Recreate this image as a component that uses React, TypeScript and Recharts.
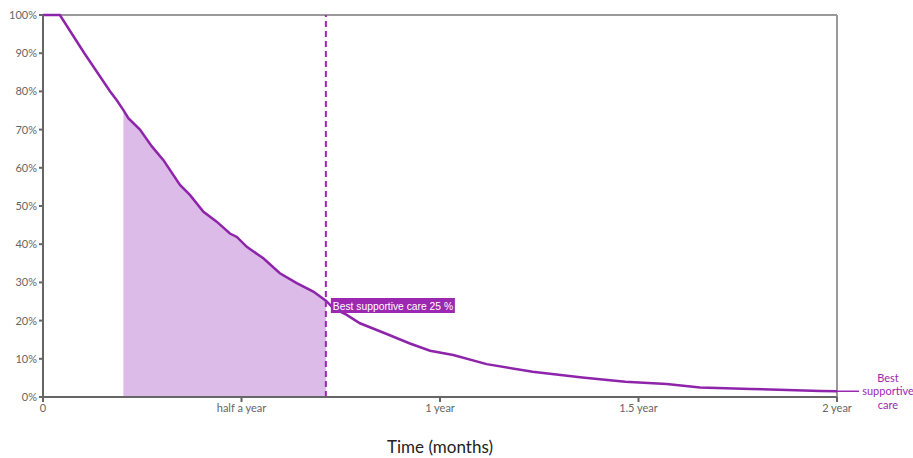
import React from "react";
import {
  ComposedChart,
  Line,
  Area,
  XAxis,
  YAxis,
  ReferenceLine,
  ReferenceDot,
} from "recharts";

const months = [0, 0.51, 1.25, 2.03, 2.23, 2.43, 2.58, 2.93, 3.29, 3.64, 4.14, 4.44, 4.85, 5.25, 5.65, 5.86, 6.16, 6.66, 7.16, 7.67, 8.17, 8.55, 8.77, 9.18, 9.58, 10.39, 11.09, 11.7, 12.4, 13.41, 14.8, 16.3, 17.6, 18.85, 19.86, 21.4, 23.5, 24];
const survival = [100, 100, 90, 80, 77.7, 75.1, 73, 70, 65.6, 62, 55.5, 52.9, 48.5, 45.9, 42.8, 41.9, 39.3, 36.3, 32.4, 29.8, 27.6, 25.2, 23.3, 21.5, 19.3, 16.5, 14.0, 12.1, 11.0, 8.6, 6.6, 5.1, 4.0, 3.4, 2.5, 2.1, 1.6, 1.5];
const shadeStart = 2.43;
const shadeEnd = 8.55;
const xTicks = [0, 6, 12, 18, 24];
const xTickLabels = ["0", "half a year", "1 year", "1.5 year", "2 year"];
const yTicks = [0, 10, 20, 30, 40, 50, 60, 70, 80, 90, 100];
const seriesName = "Best supportive care";
const markerValue = 25;

const data = months.map((m, i) => ({
  month: m,
  survival: survival[i],
  shade: m >= shadeStart && m <= shadeEnd ? survival[i] : null,
}));

const LINE = "#8e24aa";
const ACCENT = "#9c27b0";
const FILL = "#dcbbe8";
const FONT = "Lato, 'Open Sans', sans-serif";

const MarkerLabel = (props: any) => {
  const { cx, cy } = props;
  const w = 124;
  const h = 15;
  return (
    <g>
      <rect x={cx + 5} y={cy - 3.5} width={w} height={h} fill={ACCENT} />
      <text x={cx + 7} y={cy + 8} fill="#fff" fontSize={10.3} fontFamily="Arial, 'Liberation Sans', sans-serif">
        {`${seriesName} ${markerValue} %`}
      </text>
    </g>
  );
};

const EndLabel = (props: any) => {
  const { cx, cy } = props;
  return (
    <g>
      <line x1={cx} y1={cy} x2={cx + 22} y2={cy} stroke={ACCENT} strokeWidth={1.5} />
      <text x={cx + 51} textAnchor="middle" fill={ACCENT} fontSize={11} fontFamily={FONT}>
        <tspan x={cx + 51} y={cy - 9}>Best</tspan>
        <tspan x={cx + 51} y={cy + 4}>supportive</tspan>
        <tspan x={cx + 51} y={cy + 18}>care</tspan>
      </text>
    </g>
  );
};

export default function App() {
  return (
    <div style={{ position: "absolute", left: 0, top: 0 }}>
      <ComposedChart
        width={913}
        height={458}
        data={data}
        margin={{ top: 15, right: 76, bottom: 1, left: 0 }}
      >
        <XAxis
          dataKey="month"
          type="number"
          domain={[0, 24]}
          ticks={xTicks}
          tickFormatter={(v: number) => xTickLabels[xTicks.indexOf(v)]}
          height={60}
          stroke="#666"
          strokeWidth={2}
          tickSize={5}
          tick={{ fill: "#666", fontSize: 11, fontFamily: FONT }}
          label={{
            value: "Time (months)",
            position: "insideBottom",
            offset: 4,
            fill: "#222",
            fontSize: 17,
            fontFamily: FONT,
          }}
        />
        <YAxis
          type="number"
          domain={[0, 100]}
          ticks={yTicks}
          width={43}
          tickFormatter={(v: number) => `${v}%`}
          stroke="#666"
          strokeWidth={2}
          tickSize={4}
          tick={{ fill: "#666", fontSize: 11, fontFamily: FONT }}
        />
        <ReferenceLine y={100} stroke="#999" strokeWidth={2} />
        <ReferenceLine x={24} stroke="#999" strokeWidth={2} />
        <Area
          dataKey="shade"
          type="linear"
          stroke="none"
          fill={FILL}
          fillOpacity={1}
          connectNulls={false}
          isAnimationActive={false}
        />
        <Line
          dataKey="survival"
          type="linear"
          stroke={LINE}
          strokeWidth={2.5}
          dot={false}
          isAnimationActive={false}
        />
        <ReferenceLine x={shadeEnd} stroke={ACCENT} strokeWidth={2} strokeDasharray="6 4" />
        <ReferenceDot x={shadeEnd} y={markerValue} r={0} shape={MarkerLabel} />
        <ReferenceDot x={24} y={1.5} r={0} shape={EndLabel} ifOverflow="visible" />
      </ComposedChart>
    </div>
  );
}
